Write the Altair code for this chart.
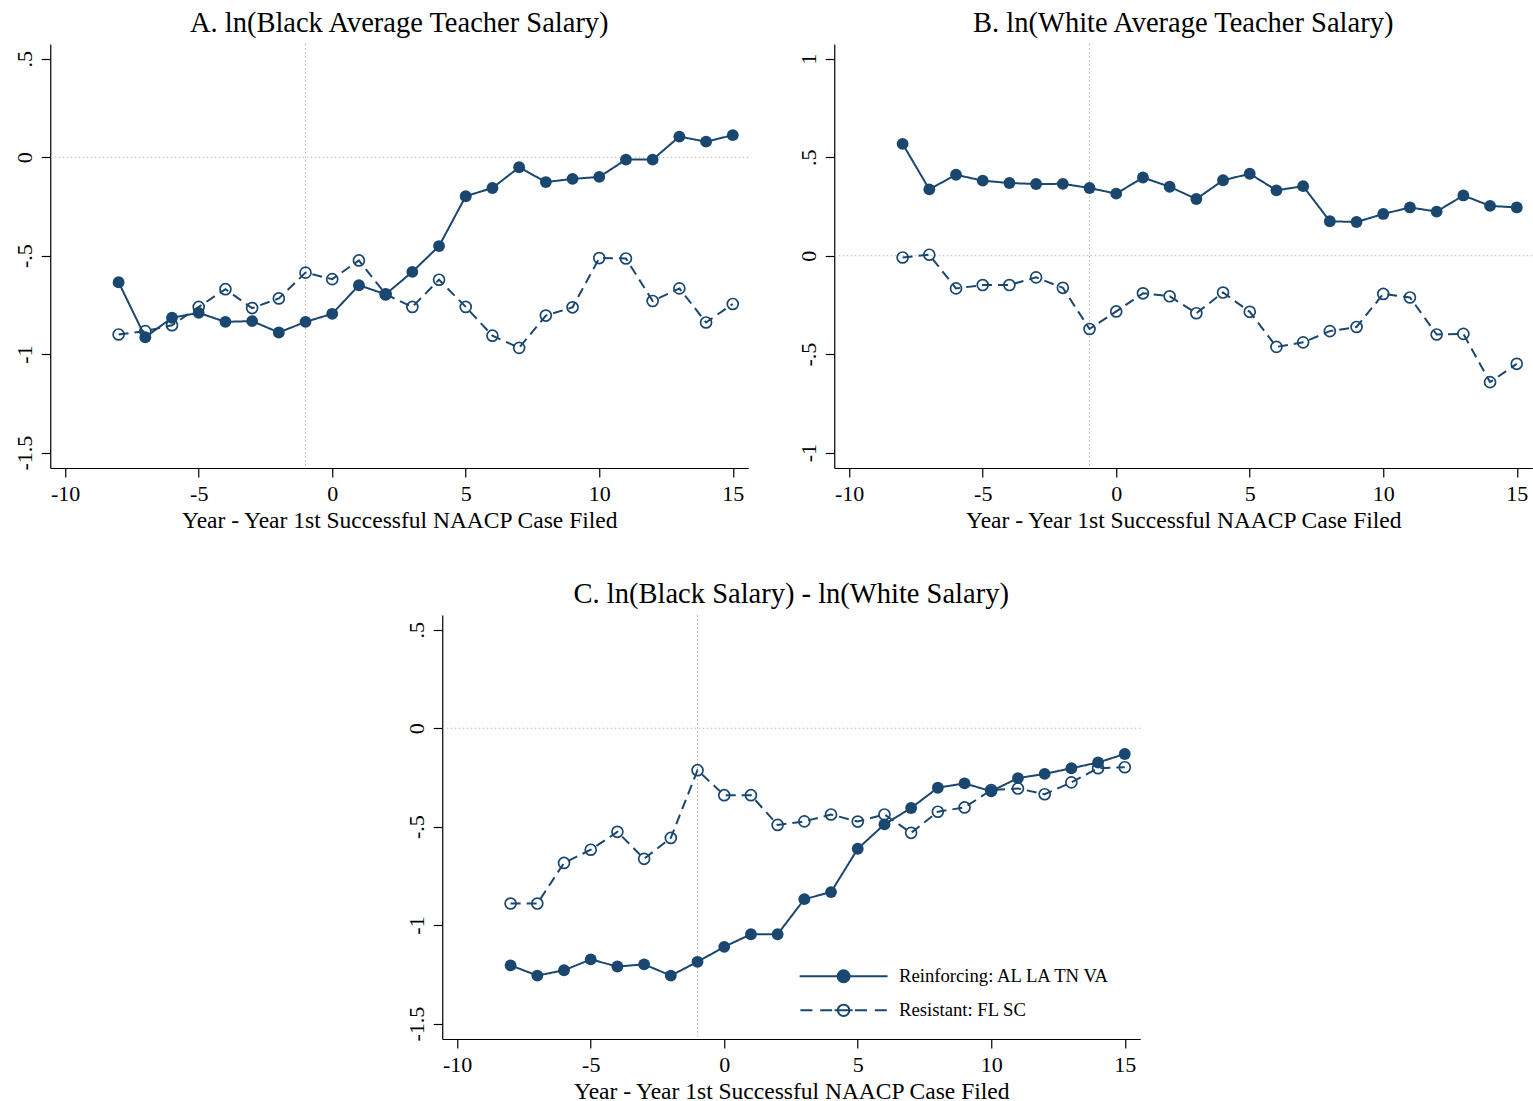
import altair as alt
import pandas as pd

# Event time: years relative to the first successful NAACP salary case
years = list(range(-8, 16))

series_names = ["Reinforcing: AL LA TN VA", "Resistant: FL SC"]

# Panel A: ln(black average teacher salary)
a_reinforcing = [-0.635, -0.914, -0.815, -0.790, -0.836, -0.832, -0.890, -0.836,
                 -0.795, -0.650, -0.696, -0.582, -0.451, -0.198, -0.156, -0.051,
                 -0.126, -0.110, -0.100, -0.012, -0.012, 0.105, 0.079, 0.112]
a_resistant = [-0.900, -0.883, -0.853, -0.760, -0.670, -0.766, -0.717, -0.586,
               -0.619, -0.524, -0.696, -0.760, -0.622, -0.760, -0.906, -0.968,
               -0.804, -0.762, -0.512, -0.514, -0.730, -0.666, -0.839, -0.745]

# Panel B: ln(white average teacher salary)
b_reinforcing = [0.568, 0.337, 0.411, 0.381, 0.369, 0.364, 0.365, 0.344,
                 0.315, 0.397, 0.350, 0.288, 0.383, 0.416, 0.332, 0.353,
                 0.175, 0.171, 0.212, 0.245, 0.224, 0.306, 0.253, 0.245]
b_resistant = [-0.009, 0.005, -0.166, -0.149, -0.149, -0.110, -0.163, -0.372,
               -0.283, -0.191, -0.206, -0.292, -0.187, -0.285, -0.463, -0.440,
               -0.383, -0.362, -0.194, -0.212, -0.400, -0.397, -0.642, -0.549]

# Panel C: black-white log salary gap
c_reinforcing = [-1.204, -1.256, -1.229, -1.174, -1.210, -1.199, -1.256, -1.186,
                 -1.110, -1.046, -1.046, -0.868, -0.832, -0.612, -0.488, -0.405,
                 -0.302, -0.280, -0.320, -0.253, -0.232, -0.203, -0.174, -0.131]
c_resistant = [-0.890, -0.890, -0.684, -0.617, -0.526, -0.663, -0.557, -0.213,
               -0.340, -0.340, -0.491, -0.473, -0.438, -0.474, -0.438, -0.531,
               -0.424, -0.402, -0.314, -0.306, -0.335, -0.275, -0.203, -0.198]

panel_titles = {
    "A": "A. ln(Black Average Teacher Salary)",
    "B": "B. ln(White Average Teacher Salary)",
    "C": "C. ln(Black Salary) - ln(White Salary)",
}
x_ticks = [-10, -5, 0, 5, 10, 15]
y_ticks_ac = [0.5, 0, -0.5, -1, -1.5]
y_ticks_b = [1, 0.5, 0, -0.5, -1]
x_title = "Year - Year 1st Successful NAACP Case Filed"

event_year = -1   # dotted vertical reference line
zero_level = 0    # dotted horizontal reference line

rows = []
for key, reinf, resist in [("A", a_reinforcing, a_resistant),
                           ("B", b_reinforcing, b_resistant),
                           ("C", c_reinforcing, c_resistant)]:
    for name, vals in zip(series_names, [reinf, resist]):
        for t, v in zip(years, vals):
            rows.append({"panel": key, "series": name, "t": t, "value": v})
df = pd.DataFrame(rows)

NAVY = "#1a476f"
FONT = "Liberation Serif"
PLOT_W, PLOT_H = 698, 424
X_DOMAIN = [-10.56, 15.58]

# Legend keys: a line with the marker in the middle (custom symbol paths)
solid_key = "M-7.33,0L7.33,0M-1,0A1,1,0,1,0,1,0A1,1,0,1,0,-1,0Z"
dashed_key = ("M-7.2,0L-5.2,0M-3.9,0L-1.9,0M-1.5,0L1.5,0M1.9,0L3.9,0M5.2,0L7.2,0"
              "M-0.95,0A0.95,0.95,0,1,0,0.95,0A0.95,0.95,0,1,0,-0.95,0Z")

num_label = ("(datum.value < 0 ? '-' : '') + "
             "(abs(datum.value) < 1 && datum.value != 0 ? "
             "replace(format(abs(datum.value), '~g'), '0.', '.') : "
             "format(abs(datum.value), '~g'))")


def x_enc():
    return alt.X(
        "t:Q",
        scale=alt.Scale(domain=X_DOMAIN, nice=False, zero=False),
        axis=alt.Axis(values=x_ticks, labelExpr=num_label, title=x_title,
                      grid=False, tickSize=9, labelPadding=23.5,
                      labelBaseline="alphabetic", labelFlush=False,
                      labelOverlap=False, titleY=59, titleBaseline="alphabetic"),
    )


def y_enc(domain, ticks):
    return alt.Y(
        "value:Q",
        scale=alt.Scale(domain=domain, nice=False, zero=False),
        axis=alt.Axis(values=ticks, labelExpr=num_label, title=None, grid=False,
                      tickSize=9, labelAngle=270, labelAlign="center",
                      labelBaseline="alphabetic", labelPadding=10,
                      labelFlush=False, labelOverlap=False),
    )


def panel(key, y_domain, y_ticks, with_legend=False):
    data = alt.Chart(df).transform_filter(alt.datum.panel == key)
    xe, ye = x_enc(), y_enc(y_domain, y_ticks)

    hline = alt.Chart(pd.DataFrame({"value": [zero_level]})).mark_rule(
        color="#b5b5b5", strokeWidth=1, strokeDash=[1.5, 2.5]
    ).encode(y=ye)
    vline = alt.Chart(pd.DataFrame({"t": [event_year]})).mark_rule(
        color="#b5b5b5", strokeWidth=1, strokeDash=[1.5, 2.5]
    ).encode(x=xe)

    lines = data.mark_line(color=NAVY, strokeWidth=2).encode(
        x=xe, y=ye,
        strokeDash=alt.StrokeDash(
            "series:N",
            scale=alt.Scale(domain=series_names, range=[[1, 0], [10, 6]]),
            legend=None,
        ),
    )
    filled = data.transform_filter(alt.datum.series == series_names[0]).mark_circle(
        size=140, color=NAVY, opacity=1
    ).encode(x=xe, y=ye)
    hollow = data.transform_filter(alt.datum.series == series_names[1]).mark_point(
        shape="circle", size=120, filled=False, color=NAVY, strokeWidth=1.7, opacity=1
    ).encode(x=xe, y=ye)

    layers = [hline, vline, lines, filled, hollow]

    if with_legend:
        legend = alt.Legend(
            title=None, orient="none", legendX=392, legendY=352,
            labelFont=FONT, labelFontSize=18.7, labelColor="black", labelLimit=0,
            symbolSize=144, symbolStrokeWidth=2,
            labelOffset=46, rowPadding=13, padding=0,
        )
        key_layer = data.transform_filter("false").mark_point(
            opacity=1, strokeWidth=2
        ).encode(
            x=xe, y=ye,
            shape=alt.Shape("series:N",
                            scale=alt.Scale(domain=series_names,
                                            range=[solid_key, dashed_key]),
                            legend=legend),
            fill=alt.Fill("series:N",
                          scale=alt.Scale(domain=series_names,
                                          range=[NAVY, "transparent"]),
                          legend=legend),
            stroke=alt.Stroke("series:N",
                              scale=alt.Scale(domain=series_names,
                                              range=[NAVY, NAVY]),
                              legend=legend),
        )
        layers.append(key_layer)

    return alt.layer(*layers).properties(
        width=PLOT_W, height=PLOT_H,
        title=alt.TitleParams(panel_titles[key], font=FONT, fontSize=28.5,
                              fontWeight="normal", color="black",
                              anchor="middle", frame="group",
                              baseline="alphabetic", offset=-17),
    )


panel_a = panel("A", [-1.578, 0.575], y_ticks_ac)
panel_b = panel("B", [-1.078, 1.075], y_ticks_b)
panel_c = panel("C", [-1.578, 0.575], y_ticks_ac, with_legend=True)

chart = alt.vconcat(
    alt.hconcat(panel_a, panel_b, spacing=47),
    panel_c,
    spacing=48,
    center=True,
).resolve_legend(
    shape="independent", fill="independent", stroke="independent"
).resolve_scale(
    shape="independent", fill="independent", stroke="independent"
).configure(
    font=FONT,
    padding={"left": 13, "top": 9, "right": 0, "bottom": 0},
    background="white",
).configure_view(
    stroke=None
).configure_axis(
    domainColor="black", domainWidth=1.2, tickColor="black", tickWidth=1.2,
    labelFont=FONT, labelFontSize=22, labelColor="black",
    titleFont=FONT, titleFontSize=23.5, titleFontWeight="normal", titleColor="black",
)

chart.save("out.html", embed_options={"renderer": "svg", "actions": False})
